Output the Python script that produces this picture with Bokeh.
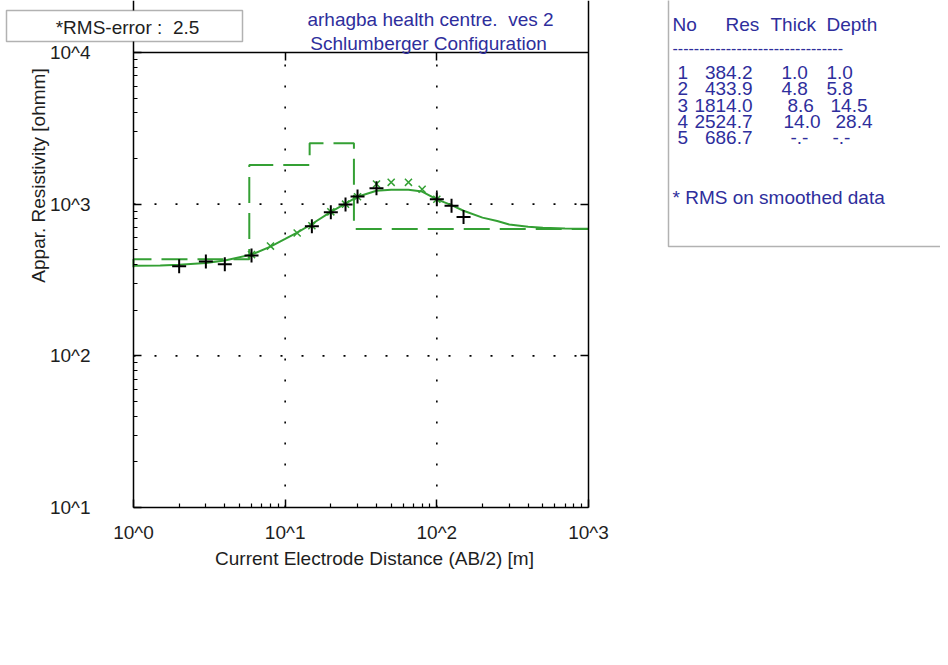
import math
from bokeh.plotting import figure
from bokeh.models import FixedTicker, LogAxis, Label, BoxAnnotation, Range1d
from bokeh.embed import file_html
from bokeh.resources import INLINE

# ---------------- data ----------------
x_ticks = [1, 10, 100, 1000]
x_tick_labels = ["10^0", "10^1", "10^2", "10^3"]
y_ticks = [10, 100, 1000, 10000]
y_tick_labels = ["10^1", "10^2", "10^3", "10^4"]

# field data (black +)
obs_ab2 = [2, 3, 4, 6, 15, 20, 25, 30, 40, 100, 125, 150]
obs_rho = [390, 418, 401, 459, 714, 883, 995, 1123, 1272, 1078, 975, 822]

# smoothed data (green x)
smooth_ab2 = [6, 8, 12, 15, 20, 25, 30, 40, 50, 65, 80, 100]
smooth_rho = [465, 529, 646, 720, 890, 1000, 1120, 1358, 1393, 1393, 1254, 1078]

# computed model curve (solid green)
curve_ab2 = [1, 1.5, 2, 3, 4, 6, 8, 10, 12, 15, 20, 25, 30, 40, 50, 65, 80,
             100, 125, 150, 200, 250, 300, 400, 500, 700, 1000]
curve_rho = [392, 394, 398, 410, 425, 465, 525, 590, 650, 740, 890, 1010, 1120,
             1225, 1245, 1245, 1210, 1075, 985, 905, 815, 775, 735, 710, 700, 692, 688]

# layered model (dashed green) and table
layer_no = [1, 2, 3, 4, 5]
layer_res = [384.2, 433.9, 1814.0, 2524.7, 686.7]
layer_thick = [1.0, 4.8, 8.6, 14.0]
layer_depth = [1.0, 5.8, 14.5, 28.4]

rms_error = 2.5
title_lines = ["arhagba health centre.\u00a0 ves 2", "Schlumberger Configuration"]
x_label = "Current Electrode Distance (AB/2) [m]"
y_label = "Appar. Resistivity [ohmm]"
table_header = ["No", "Res", "Thick", "Depth"]
table_note = "* RMS on smoothed data"

# step line of the layered model
step_x = [x_ticks[0]]
step_y = [layer_res[0]]
for i, d in enumerate(layer_depth):
    step_x += [d, d]
    step_y += [layer_res[i], layer_res[i + 1]]
step_x.append(x_ticks[-1])
step_y.append(layer_res[-1])

# ---------------- layout ----------------
W, H = 940, 655
PL, PR, PT, PB = 133, 588, 52, 507   # plot box in page px

FONT = "Liberation Sans"
BLUE = "#2e2e9c"
GREEN = "#34a034"
TXT = "#1e1e1e"


def dx(px):  # page x -> data x
    return 10 ** ((px - PL) / (PR - PL) * 3)


def dy(py):  # page y -> data y
    return 10 ** (4 - (py - PT) / (PB - PT) * 3)


p = figure(width=W, height=H, x_axis_type="log", y_axis_type="log",
           x_range=Range1d(dx(0), dx(W)), y_range=Range1d(dy(H), dy(0)),
           output_backend="svg", toolbar_location=None,
           min_border_left=0, min_border_right=0, min_border_top=0, min_border_bottom=0)
p.title.visible = False
p.background_fill_color = "white"
p.border_fill_color = "white"
p.outline_line_color = None
p.xgrid.visible = False
p.ygrid.visible = False

x_minor = [m * d for d in x_ticks[:-1] for m in range(2, 10)]
y_minor = [m * d for d in y_ticks[:-1] for m in range(2, 10)]


def style_axis(ax):
    ax.major_tick_in = 8
    ax.major_tick_out = 0
    ax.minor_tick_in = 4
    ax.minor_tick_out = 0
    ax.axis_line_width = 1.5
    ax.axis_line_color = "black"
    ax.major_tick_line_width = 1.5
    ax.minor_tick_line_width = 1.2
    ax.major_label_text_font = FONT
    ax.major_label_text_font_size = "19px"
    ax.major_label_text_color = TXT


xa = p.xaxis[0]
xa.ticker = FixedTicker(ticks=x_ticks, minor_ticks=x_minor)
xa.major_label_overrides = dict(zip(x_ticks, x_tick_labels))
style_axis(xa)
xa.major_label_standoff = 14
xa.fixed_location = y_ticks[0]
xa.bounds = (x_ticks[0], x_ticks[-1])

ya = p.yaxis[0]
ya.ticker = FixedTicker(ticks=y_ticks, minor_ticks=y_minor)
ya.major_label_overrides = dict(zip(y_ticks, y_tick_labels))
style_axis(ya)
ya.major_label_standoff = 43
ya.fixed_location = x_ticks[0]
ya.bounds = (y_ticks[0], dy(0))

ra = LogAxis(ticker=FixedTicker(ticks=y_ticks[1:-1], minor_ticks=[]),
             major_label_overrides={t: "" for t in y_ticks[1:-1]})
style_axis(ra)
ra.minor_tick_in = 0
ra.fixed_location = x_ticks[-1]
ra.bounds = (y_ticks[0], dy(0))
p.add_layout(ra, "right")

ta = LogAxis(ticker=FixedTicker(ticks=x_ticks[1:-1], minor_ticks=[]),
             major_label_overrides={t: "" for t in x_ticks[1:-1]})
style_axis(ta)
ta.minor_tick_in = 0
ta.fixed_location = y_ticks[-1]
ta.bounds = (x_ticks[0], x_ticks[-1])
p.add_layout(ta, "above")

# dotted grid at inner decades
gx = x_ticks[1:-1]
gy = y_ticks[1:-1]
p.segment(x0=gx, x1=gx, y0=[y_ticks[0]] * len(gx), y1=[y_ticks[-1]] * len(gx),
          line_color="black", line_width=1.6, line_dash="2 19")
p.segment(x0=[x_ticks[0]] * len(gy), x1=[x_ticks[-1]] * len(gy), y0=gy, y1=gy,
          line_color="black", line_width=1.6, line_dash="2 19")

# ---------------- marks ----------------
p.line(step_x, step_y, line_color=GREEN, line_width=2, line_dash="26 10")
p.line(curve_ab2, curve_rho, line_color=GREEN, line_width=2)
p.scatter(smooth_ab2, smooth_rho, marker="x", size=10, line_color=GREEN, line_width=1.5)
p.scatter(obs_ab2, obs_rho, marker="cross", size=14, line_color="black", line_width=2)

# ---------------- boxes ----------------
p.add_layout(BoxAnnotation(left=dx(668), right=dx(W + 20), bottom=dy(246), top=dy(-10),
                           fill_color="white", fill_alpha=1, line_color="black", line_width=1.5))
p.add_layout(BoxAnnotation(left=dx(6), right=dx(242), bottom=dy(41), top=dy(10),
                           fill_color="white", fill_alpha=1, line_color="black", line_width=1.5))


def lab(px, py, text, color=TXT, align="left", size="19px", angle=0.0):
    p.add_layout(Label(x=dx(px), y=dy(py), text=text, text_font=FONT, text_font_size=size,
                       text_color=color, text_align=align, text_baseline="middle", angle=angle))


lab(127, 27, f"*RMS-error :\u00a0 {rms_error}", align="center")
lab(430, 19, title_lines[0], color=BLUE, align="center")
lab(428, 43, title_lines[1], color=BLUE, align="center")
lab(374, 558, x_label, align="center")
lab(38, 175, y_label, align="center", angle=math.pi / 2)

# table
hx = [672, 725, 770, 826]
for x, t in zip(hx, table_header):
    lab(x, 24, t, color=BLUE)
lab(672, 47, "-" * 32, color=BLUE, size="16px")
row_y = [72, 88, 105, 121, 137]
thick_x = [781, 781, 787, 783, 790]
depth_x = [826, 826, 830, 835, 832]
for i, n in enumerate(layer_no):
    y = row_y[i]
    lab(677, y, str(n), color=BLUE)
    lab(752, y, f"{layer_res[i]:.1f}", color=BLUE, align="right")
    th = f"{layer_thick[i]:.1f}" if i < len(layer_thick) else "-.-"
    de = f"{layer_depth[i]:.1f}" if i < len(layer_depth) else "-.-"
    lab(thick_x[i], y, th, color=BLUE)
    lab(depth_x[i], y, de, color=BLUE)
lab(672, 197, table_note, color=BLUE)

open("out.html", "w").write(file_html(p, INLINE))
